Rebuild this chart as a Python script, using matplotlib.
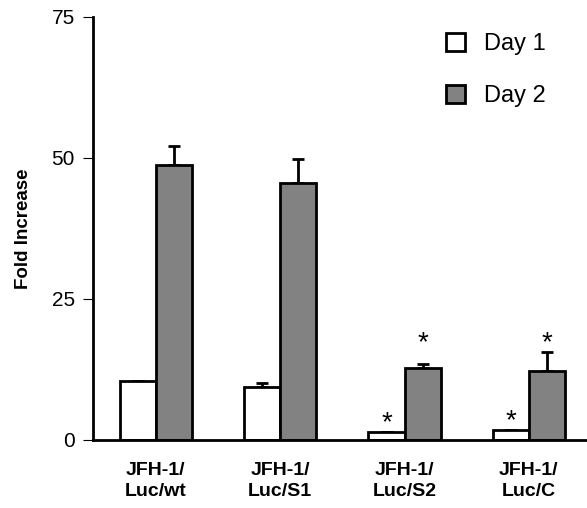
import numpy as np
import matplotlib.pyplot as plt

# values
groups = ["JFH-1/\nLuc/wt", "JFH-1/\nLuc/S1", "JFH-1/\nLuc/S2", "JFH-1/\nLuc/C"]
day1 = [10.5, 9.4, 1.4, 1.8]
day1_err = [0.0, 0.7, 0.0, 0.0]
day2 = [48.8, 45.6, 12.8, 12.2]
day2_err = [3.3, 4.2, 0.7, 3.4]
day1_star = [False, False, True, True]
day2_star = [False, False, True, True]

plt.rcParams['font.family'] = ['Liberation Sans', 'DejaVu Sans']

fig = plt.figure(figsize=(5.87, 5.08), dpi=100)
ax = fig.add_axes([0.158, 0.134, 0.842, 0.8327])

x = np.arange(len(groups))
w = 0.29
ax.bar(x - w / 2, day1, w, color='white', edgecolor='black', linewidth=2,
       label='Day 1', zorder=2)
ax.bar(x + w / 2, day2, w, color='#828282', edgecolor='black', linewidth=2,
       label='Day 2', zorder=2)
ax.errorbar(x - w / 2, day1, yerr=[np.zeros(len(day1)), day1_err], fmt='none',
            ecolor='black', elinewidth=2, capsize=4, capthick=2, zorder=1)
ax.errorbar(x + w / 2, day2, yerr=[np.zeros(len(day2)), day2_err], fmt='none',
            ecolor='black', elinewidth=2, capsize=4, capthick=2, zorder=1)

for i in range(len(groups)):
    if day1_star[i]:
        ax.text(x[i] - w / 2, day1[i] + day1_err[i] + 1.6, '*', ha='center',
                va='center', fontsize=20)
    if day2_star[i]:
        ax.text(x[i] + w / 2, 17.2, '*', ha='center', va='center', fontsize=20)

ax.set_xlim(-0.507, 3.467)
ax.set_ylim(0, 75)
ax.set_yticks([0, 25, 50, 75])
ax.tick_params(axis='y', labelsize=15, length=7, width=0.8, direction='out', pad=6)
ax.set_xticks(x)
ax.set_xticklabels(groups, fontsize=14, fontweight='bold', linespacing=1.3)
ax.tick_params(axis='x', length=0, pad=16)
ax.set_ylabel('Fold Increase', fontsize=13.5, fontweight='bold', labelpad=14)

for s in ['top', 'right']:
    ax.spines[s].set_visible(False)
ax.spines['left'].set_linewidth(2)
ax.spines['bottom'].set_linewidth(2)

ax.legend(loc='upper left', bbox_to_anchor=(0.672, 1.012), frameon=False,
          fontsize=17, handlelength=0.8, handleheight=0.8, labelspacing=1.25,
          handletextpad=0.8)

fig.savefig('out.png', dpi=100)
